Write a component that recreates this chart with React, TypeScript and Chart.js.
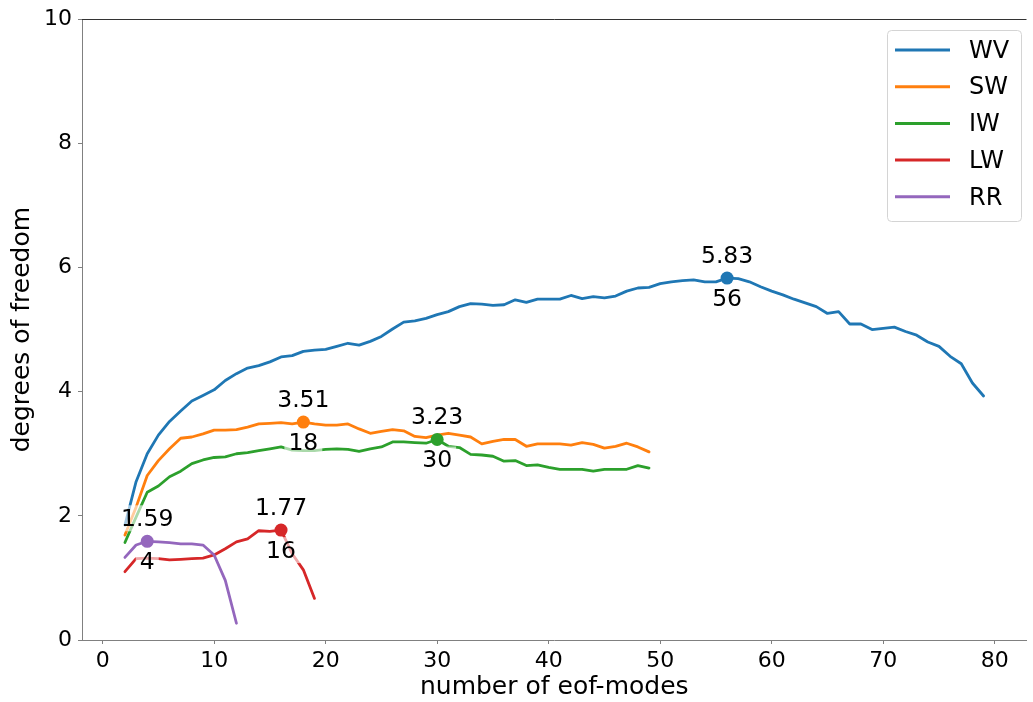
import React, { useEffect, useRef } from 'react';
import { Chart, registerables } from 'chart.js';

Chart.register(...registerables);

const FONT = '"DejaVu Sans", "Liberation Sans", sans-serif';

const seriesNames = ['WV', 'SW', 'IW', 'LW', 'RR'];
const seriesColors = ['#1f77b4', '#ff7f0e', '#2ca02c', '#d62728', '#9467bd'];
const firstMode = 2;

const wvValues = [
  1.85, 2.55, 3.0, 3.3, 3.52, 3.69, 3.85, 3.94, 4.03, 4.18,
  4.29, 4.38, 4.42, 4.48, 4.56, 4.58, 4.65, 4.67, 4.68, 4.73,
  4.78, 4.75, 4.81, 4.89, 5.01, 5.12, 5.14, 5.18, 5.24, 5.29,
  5.37, 5.42, 5.41, 5.39, 5.4, 5.48, 5.44, 5.49, 5.49, 5.49,
  5.55, 5.5, 5.53, 5.51, 5.54, 5.62, 5.67, 5.68, 5.74, 5.77,
  5.79, 5.8, 5.77, 5.77, 5.83, 5.82, 5.77, 5.69, 5.62, 5.56,
  5.49, 5.43, 5.37, 5.26, 5.29, 5.09, 5.09, 5.0, 5.02, 5.04,
  4.97, 4.91, 4.8, 4.73, 4.57, 4.45, 4.14, 3.93,
];
const swValues = [
  1.69, 2.14, 2.65, 2.89, 3.08, 3.25, 3.27, 3.32, 3.38, 3.38,
  3.39, 3.43, 3.48, 3.49, 3.5, 3.48, 3.51, 3.48, 3.46, 3.46,
  3.48, 3.4, 3.33, 3.36, 3.39, 3.37, 3.28, 3.26, 3.3, 3.33,
  3.3, 3.27, 3.16, 3.2, 3.23, 3.23, 3.12, 3.16, 3.16, 3.16,
  3.14, 3.18, 3.15, 3.09, 3.12, 3.17, 3.11, 3.03,
];
const iwValues = [
  1.57, 1.98, 2.38, 2.48, 2.63, 2.72, 2.84, 2.9, 2.94, 2.95,
  3.0, 3.02, 3.05, 3.08, 3.11, 3.06, 3.05, 3.05, 3.07, 3.08,
  3.07, 3.04, 3.08, 3.11, 3.19, 3.19, 3.18, 3.17, 3.23, 3.12,
  3.1, 2.99, 2.98, 2.96, 2.88, 2.89, 2.81, 2.82, 2.78, 2.75,
  2.75, 2.75, 2.72, 2.75, 2.75, 2.75, 2.81, 2.77,
];
const lwValues = [
  1.1, 1.31, 1.32, 1.31, 1.29, 1.3, 1.31, 1.32, 1.37, 1.47,
  1.58, 1.63, 1.76, 1.75, 1.77, 1.39, 1.13, 0.67,
];
const rrValues = [1.33, 1.53, 1.59, 1.58, 1.57, 1.55, 1.55, 1.53, 1.37, 0.96, 0.27];

const allSeries = [wvValues, swValues, iwValues, lwValues, rrValues];

const peakModes = [56, 18, 30, 16, 4];
const peakValues = [5.83, 3.51, 3.23, 1.77, 1.59];

const xTicks = [0, 10, 20, 30, 40, 50, 60, 70, 80];
const yTicks = [0, 2, 4, 6, 8, 10];
const xLimits = [-1.85, 82.85];
const yLimits = [0, 10];

const xTitle = 'number of eof-modes';
const yTitle = 'degrees of freedom';

const overlayPlugin = {
  id: 'overlay',
  afterDatasetsDraw(chart: any) {
    const ctx = chart.ctx;
    const xs = chart.scales.x;
    const ys = chart.scales.y;
    ctx.save();
    ctx.font = `23.5px ${FONT}`;
    ctx.textAlign = 'center';
    ctx.textBaseline = 'alphabetic';
    for (let k = 0; k < peakModes.length; k++) {
      const px = xs.getPixelForValue(peakModes[k]);
      const py = ys.getPixelForValue(peakValues[k]);
      const labels = [
        { text: peakValues[k].toFixed(2), base: py - 15 },
        { text: String(peakModes[k]), base: py + 28 },
      ];
      for (const l of labels) {
        const w = ctx.measureText(l.text).width;
        ctx.fillStyle = 'rgba(255,255,255,0.6)';
        ctx.fillRect(px - w / 2 - 4, l.base - 21, w + 8, 26);
        ctx.fillStyle = '#000';
        ctx.fillText(l.text, px, l.base);
      }
    }
    ctx.restore();
  },
  afterDraw(chart: any) {
    const ctx = chart.ctx;
    const area = chart.chartArea;
    ctx.save();
    ctx.strokeStyle = '#333';
    ctx.lineWidth = 1;
    ctx.beginPath();
    ctx.moveTo(area.left, Math.round(area.top) + 0.5);
    ctx.lineTo(area.right, Math.round(area.top) + 0.5);
    ctx.stroke();

    const bx = 887.5, by = 30.5, bw = 134, bh = 191;
    ctx.beginPath();
    ctx.roundRect(bx, by, bw, bh, 4);
    ctx.fillStyle = 'rgba(255,255,255,0.8)';
    ctx.fill();
    ctx.strokeStyle = '#d4d4d4';
    ctx.lineWidth = 1;
    ctx.stroke();
    ctx.font = `24px ${FONT}`;
    ctx.textAlign = 'left';
    ctx.textBaseline = 'middle';
    for (let i = 0; i < seriesNames.length; i++) {
      const ry = 50 + i * 36.7;
      ctx.strokeStyle = seriesColors[i];
      ctx.lineWidth = 3;
      ctx.beginPath();
      ctx.moveTo(895, ry);
      ctx.lineTo(950, ry);
      ctx.stroke();
      ctx.fillStyle = '#000';
      ctx.fillText(seriesNames[i], 969, ry + 1.5);
    }
    ctx.restore();
  },
};

export default function App() {
  const canvasRef = useRef<HTMLCanvasElement | null>(null);

  useEffect(() => {
    document.body.style.margin = '0';
    const canvas = canvasRef.current;
    if (!canvas) return;

    const lineSets = allSeries.map((vals, i) => ({
      label: seriesNames[i],
      data: vals.map((v, j) => ({ x: firstMode + j, y: v })),
      borderColor: seriesColors[i],
      backgroundColor: seriesColors[i],
      borderWidth: 2.8,
      borderJoinStyle: 'round',
      borderCapStyle: 'round',
      pointRadius: 0,
      pointHoverRadius: 0,
      tension: 0,
      fill: false,
      order: 5 - i + 1,
    }));
    const peakSets = peakModes.map((m, k) => ({
      label: '',
      data: [{ x: m, y: peakValues[k] }],
      showLine: false,
      pointRadius: 6.5,
      pointHoverRadius: 6.5,
      pointBackgroundColor: seriesColors[k],
      pointBorderWidth: 0,
      borderColor: seriesColors[k],
      backgroundColor: seriesColors[k],
      order: 0,
    }));

    const tickFont = { family: FONT, size: 22 };
    const titleFont = { family: FONT, size: 25 };

    const chart = new Chart(canvas, {
      type: 'line',
      data: { datasets: [...lineSets, ...peakSets] as any },
      options: {
        responsive: false,
        animation: false,
        devicePixelRatio: 1,
        layout: { padding: { top: 18, left: 0, right: 0, bottom: 0 } },
        plugins: {
          legend: { display: false },
          tooltip: { enabled: false },
        },
        events: [],
        scales: {
          x: {
            type: 'linear',
            min: xLimits[0],
            max: xLimits[1],
            afterBuildTicks: (s: any) => {
              s.ticks = xTicks.map((v) => ({ value: v }));
            },
            afterFit: (s: any) => {
              s.height = 62;
            },
            grid: {
              display: true,
              drawOnChartArea: false,
              drawTicks: true,
              tickLength: 4,
              color: '#808080',
              lineWidth: 1,
            },
            border: { display: true, color: '#808080', width: 1 },
            ticks: {
              color: '#000',
              font: tickFont,
              padding: 4,
              maxRotation: 0,
              autoSkip: false,
            },
            title: {
              display: true,
              text: xTitle,
              color: '#000',
              font: titleFont,
              padding: { top: 0, bottom: 0 },
            },
          },
          y: {
            type: 'linear',
            min: yLimits[0],
            max: yLimits[1],
            afterBuildTicks: (s: any) => {
              s.ticks = yTicks.map((v) => ({ value: v }));
            },
            afterFit: (s: any) => {
              s.width = 82;
            },
            grid: {
              display: true,
              drawOnChartArea: false,
              drawTicks: true,
              tickLength: 4,
              color: '#808080',
              lineWidth: 1,
            },
            border: { display: true, color: '#808080', width: 1 },
            ticks: {
              color: '#000',
              font: tickFont,
              padding: 6,
              autoSkip: false,
            },
            title: {
              display: true,
              text: yTitle,
              color: '#000',
              font: titleFont,
              padding: { top: 7.5, bottom: 0 },
            },
          },
        },
      } as any,
      plugins: [overlayPlugin],
    });

    return () => {
      chart.destroy();
    };
  }, []);

  return (
    <div style={{ width: 1033, height: 702, background: '#fff' }}>
      <canvas ref={canvasRef} width={1033} height={702} style={{ display: 'block' }} />
    </div>
  );
}
